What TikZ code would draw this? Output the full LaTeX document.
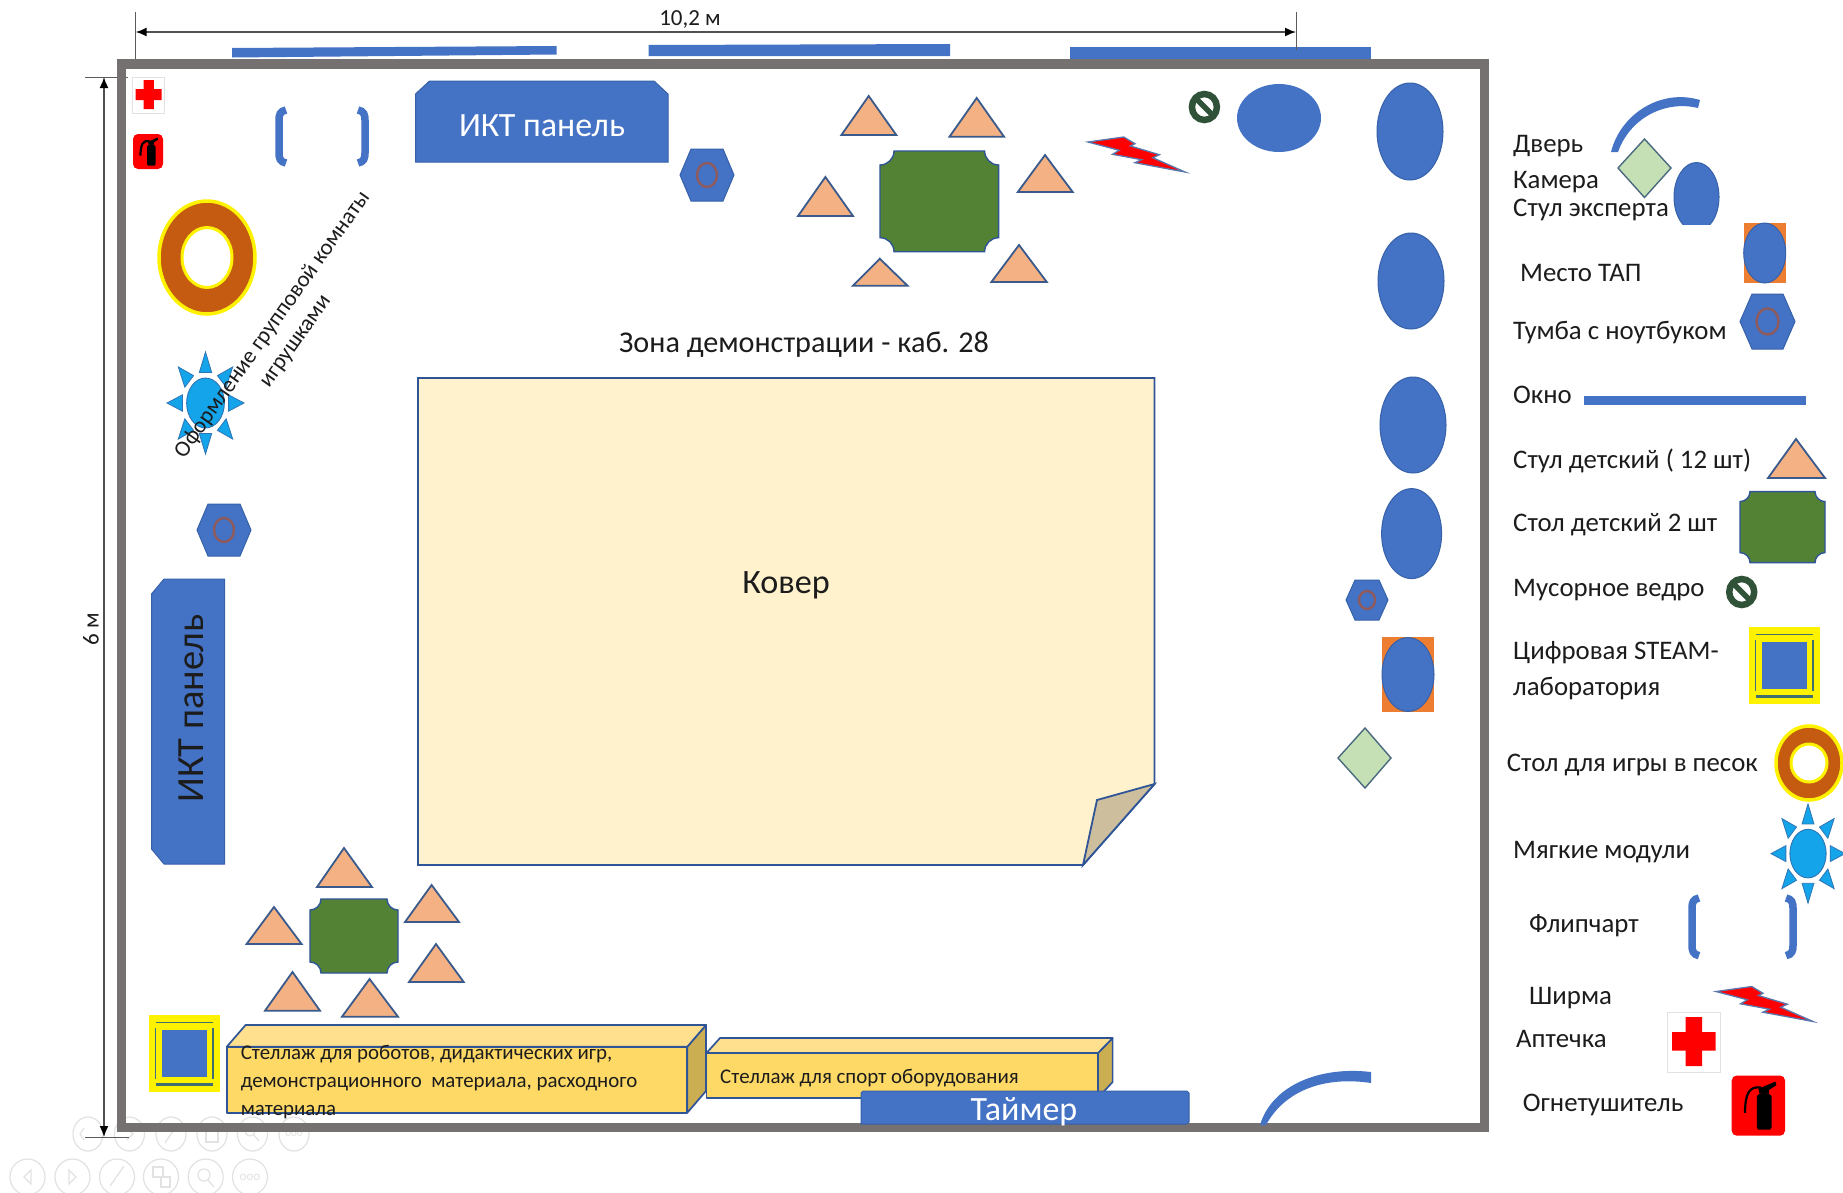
\documentclass[tikz,border=0pt]{standalone}
\usepackage{fontspec}
\setmainfont{Carlito}
\usetikzlibrary{arrows.meta,calc}
\definecolor{blueF}{HTML}{4472C4}
\definecolor{blueS}{HTML}{2F5597}
\definecolor{wallC}{HTML}{767171}
\definecolor{chairF}{HTML}{F4B183}
\definecolor{chairS}{HTML}{3A5A8C}
\definecolor{greenF}{HTML}{548235}
\definecolor{camF}{HTML}{C5E0B4}
\definecolor{camS}{HTML}{4A6A80}
\definecolor{carpetF}{HTML}{FFF2CC}
\definecolor{foldF}{HTML}{CDBF9E}
\definecolor{shelfF}{HTML}{FFD966}
\definecolor{shelfT}{HTML}{FFE08F}
\definecolor{shelfS}{HTML}{CCAE52}
\definecolor{sandF}{HTML}{C55A11}
\definecolor{sunF}{HTML}{14A4EA}
\definecolor{sunS}{HTML}{2E75B6}
\definecolor{trashF}{HTML}{2F5238}
\definecolor{ringH}{HTML}{8F5A5C}
\definecolor{frameC}{HTML}{3F6F70}
\definecolor{ink}{HTML}{1C1C1C}
\definecolor{ghost}{HTML}{E2E2E2}
\definecolor{tapF}{HTML}{ED7D31}
\tikzset{
  blueshape/.style={fill=blueF,draw=blueS!60!blueF,line width=1pt},
  kidchair/.style={fill=chairF,draw=chairS,line width=1.8pt,line join=miter},
  kidtable/.style={fill=greenF,draw=blueS,line width=1.4pt},
  camera/.style={fill=camF,draw=camS,line width=1.4pt},
  shelf/.style={draw=blueS,line width=1.7pt,line join=round},
  dimline/.style={draw=wallC!70!black,line width=1.6pt,{Latex[length=11pt,width=9pt,black]}-{Latex[length=11pt,width=9pt,black]}},
  dimtick/.style={draw=wallC!80!black,line width=1pt},
  lbl/.style={anchor=base west,inner sep=0pt,text=ink,font=\fontsize{26.8}{30}\selectfont},
  panel/.style={text=white,inner sep=0pt,font=\fontsize{34}{40}\selectfont},
  shelftext/.style={anchor=base west,inner sep=0pt,text=ink,font=\fontsize{20.9}{24}\selectfont},
  ghostline/.style={draw=ghost,line width=1.2pt},
}
% concave-corner table: x1 y1 width height corner
\newcommand\KidTable[5]{%
  \begin{scope}[shift={(#1,#2)}]
  \draw[kidtable] (#5,0) -- ({#3-#5},0) .. controls ({#3-#5},{.55*#5}) and ({#3-.55*#5},#5) .. (#3,#5)
    -- (#3,{#4-#5}) .. controls ({#3-.55*#5},{#4-#5}) and ({#3-#5},{#4-.55*#5}) .. ({#3-#5},#4)
    -- (#5,#4) .. controls (#5,{#4-.55*#5}) and ({.55*#5},{#4-#5}) .. (0,{#4-#5})
    -- (0,#5) .. controls ({.55*#5},#5) and (#5,{.55*#5}) .. (#5,0) -- cycle;
  \end{scope}}
% hexagon: x1 y1 x2 y2 offset circle-rx circle-ry
\newcommand\Tumba[7]{%
  \draw[blueshape] (#1,{(#2+#4)/2}) -- ({#1+#5},#2) -- ({#3-#5},#2) -- (#3,{(#2+#4)/2}) -- ({#3-#5},#4) -- ({#1+#5},#4) -- cycle;
  \draw[draw=ringH,line width=2.4pt] ({(#1+#3)/2},{(#2+#4)/2}) ellipse [x radius=#6pt,y radius=#7pt];}
% lightning screen at left tip x y
\newcommand\Bolt[2]{%
  \draw[fill=red,draw=blueS!80!white,line width=1.3pt,line join=miter,shift={(#1,#2)}]
   (0,0) -- (35.7,-5) -- (46.9,1.7) -- (42.4,4) -- (71.4,12.7) -- (64.7,15.7) -- (97,30)
   -- (46.9,20.7) -- (53.6,17.7) -- (24.6,12.3) -- (31.3,8.3) -- cycle;}
% trash: cx cy
\newcommand\Trash[2]{%
  \begin{scope}[shift={(#1,#2)}]
  \draw[draw=trashF,fill=white,line width=6.5pt] (0,0) ellipse [x radius=12.5pt,y radius=13pt];
  \draw[draw=trashF,line width=5.5pt] (-8,-8) -- (8,8);
  \end{scope}}
% sun: cx cy half-width half-height
\newcommand\SunMod[4]{%
  \begin{scope}[shift={(#1,#2)},xscale=#3,yscale=#4]
  \foreach \a in {0,45,...,315}{
    \draw[fill=sunF,draw=sunS,line width=.8pt] (\a:1) -- (\a+15:.62) -- (\a-15:.62) -- cycle;}
  \draw[fill=sunF,draw=sunS,line width=.9pt] (0,0) circle [radius=.49];
  \end{scope}}
% sand ring: cx cy rx ry hole-rx hole-ry
\newcommand\SandRing[6]{%
  \draw[fill=sandF,draw=yellow,line width=3.5pt] (#1,#2) ellipse [x radius=#3pt,y radius=#4pt];
  \draw[fill=white,draw=yellow,line width=3pt] (#1,#2) ellipse [x radius=#5pt,y radius=#6pt];}
% steam lab: yellow x1 y1 x2 y2, blue x1 y1 x2 y2
\newcommand\SteamLab[8]{%
  \fill[yellow] (#1,#2) rectangle (#3,#4);
  \fill[blueF] (#5,#6) rectangle (#7,#8);
  \draw[frameC,line width=1.6pt] ({#1+.3*(#5-#1)+3},{(#2+#6)/2}) -- ({#3-.3*(#3-#7)-3},{(#2+#6)/2});
  \draw[frameC,line width=2.2pt] ({#1+.3*(#5-#1)+3},{(#4+#8)/2}) -- ({#3-.3*(#3-#7)-3},{(#4+#8)/2});
  \draw[frameC!70!blueF,line width=1.6pt] ({(#1+#5)/2},{#6-2}) -- ({(#1+#5)/2},{#8+2});
  \draw[frameC,line width=2.2pt] ({(#3+#7)/2},{#6-2}) -- ({(#3+#7)/2},{#8+2});}
% bracket pair: left x (outer) right x (outer) top bottom
\newcommand\Flip[4]{%
  \draw[draw=blueF,line width=7.5pt] ({#1+11},{#3+2}) .. controls ({#1+5},{#3+3}) and ({#1+4},{#3+7}) .. ({#1+4},{#3+12})
    -- ({#1+4},{#4-12}) .. controls ({#1+4},{#4-7}) and ({#1+5},{#4-3}) .. ({#1+11},{#4-2});
  \draw[draw=blueF,line width=7.5pt] ({#2-11},{#3+2}) .. controls ({#2-5},{#3+3}) and ({#2-4},{#3+7}) .. ({#2-4},{#3+12})
    -- ({#2-4},{#4-12}) .. controls ({#2-4},{#4-7}) and ({#2-5},{#4-3}) .. ({#2-11},{#4-2});}
% extinguisher: x y w h
\newcommand\Exting[4]{%
  \begin{scope}[shift={(#1,#2)}]
  \fill[red,rounded corners=5pt] (0,0) rectangle (#3,#4);
  \begin{scope}[xscale=#3,yscale=#4]
  \fill[black] (.47,.36) .. controls (.47,.27) and (.75,.27) .. (.75,.36) -- (.75,.86) -- (.72,.9) -- (.5,.9) -- (.47,.86) -- cycle;
  \fill[black] (.5,.22) -- (.82,.1) -- (.84,.16) -- (.7,.24) -- (.7,.3) -- (.52,.3) -- cycle;
  \draw[black,line width=2.2pt] (.55,.2) .. controls (.33,.17) and (.25,.3) .. (.25,.62);
  \end{scope}
  \end{scope}}
\begin{document}
\begin{tikzpicture}[x=1pt,y=-1pt]
\useasboundingbox (0,0) rectangle (1843,1192);
\fill[white] (0,0) rectangle (1843,1192);

% faint toolbar
\foreach \cx/\cy/\rx/\ry in {88/1134/15/17,129.5/1134/15/17,171/1134/15/17,212/1134/15/17,252.5/1134/15/17,294/1134/15/17,
  27.5/1177/17.5/18,72.5/1177/17.5/18,117/1177/17.5/18,161/1177/17.5/18,205.7/1177/17.5/18,250/1177/17.5/18}{
  \draw[ghostline] (\cx,\cy) ellipse [x radius=\rx pt,y radius=\ry pt];}
\draw[ghostline] (31,1170) -- (24,1177) -- (31,1184) -- cycle;
\draw[ghostline] (69,1170) -- (76,1177) -- (69,1184) -- cycle;
\draw[ghostline] (110,1186) -- (124,1166);
\draw[ghostline] (153,1167) rectangle (163,1177) (161,1177) rectangle (170,1187);
\draw[ghostline] (204,1175) circle [radius=6pt] (208,1180) -- (214,1187);
\node[text=ghost,font=\fontsize{13}{13}\selectfont,inner sep=0pt] (ghostdots) at (250,1177) {ooo};
\draw[ghostline] (84,1128) -- (80,1134) -- (84,1140);
\draw[ghostline] (127,1128) -- (133,1134) -- (127,1140);
\draw[ghostline] (165,1143) -- (177,1125);
\draw[ghostline] (206,1126) rectangle (218,1142);
\draw[ghostline] (250,1131) circle [radius=5pt] (254,1135) -- (259,1141);
\node[text=ghost,font=\fontsize{11}{11}\selectfont,inner sep=0pt] (ghostdotsb) at (294,1134) {ooo};

% windows
\fill[blueF] (232,48) -- (556.5,46) -- (556.5,54.5) -- (232,57.5) -- cycle;
\fill[blueF] (648.6,45) -- (950,44) -- (950,56) -- (648.6,56) -- cycle;
\fill[blueF] (1069.5,47) rectangle (1371,60);

% dimension lines
\coordinate (hL) at (135.6,32);
\coordinate (hR) at (1296,32);
\coordinate (hLt) at (135.6,12);
\coordinate (hLb) at (135.6,60);
\coordinate (hRt) at (1296,12);
\coordinate (hRb) at (1296,50);
\draw[dimtick] (hLt) -- (hLb);
\draw[dimtick] (hRt) -- (hRb);
\draw[dimline] (hL) -- (hR);
\node[inner sep=0pt,text=ink,font=\fontsize{23}{26}\selectfont] (width) at (690,20) {10,2 м};
\coordinate (vT) at (104,77);
\coordinate (vB) at (104,1137);
\coordinate (vTl) at (85,77);
\coordinate (vTr) at (128,77);
\coordinate (vBl) at (85,1137);
\coordinate (vBr) at (128.5,1137);
\draw[dimtick] (vTl) -- (vTr);
\draw[dimtick] (vBl) -- (vBr);
\draw[dimline] (vT) -- (vB);
\node[rotate=90,inner sep=0pt,text=ink,font=\fontsize{23}{26}\selectfont] (height) at (91,629) {6 м};

% walls
\draw[wallC,line width=9.5pt] (121.5,64) rectangle (1484.5,1127.5);

% first-aid kit
\draw[fill=white,draw=ghost,line width=1pt] (132,77) rectangle (164,113);
\fill[red] (143.5,80) rectangle (153.8,109) (135.6,89) rectangle (161.7,100);
\Exting{133}{134}{30}{35}

% flipchart
\Flip{275}{369}{108}{165}

% panel top
\draw[blueshape] (415.5,94) -- (429.5,81) -- (654,81) -- (668,94) -- (668,162) -- (415.5,162) -- cycle;
\node[panel] (panelAtext) at (542,126) {ИКТ панель};

\Tumba{680}{149}{734}{201}{11}{10}{12}

% top group chairs and table
\draw[kidchair] (868.7,96) -- (841.4,135) -- (896.3,135) -- cycle;
\draw[kidchair] (976.7,98) -- (949.5,136.7) -- (1004,136.7) -- cycle;
\draw[kidchair] (1045,155) -- (1017.8,192) -- (1072.7,192) -- cycle;
\draw[kidchair] (825.4,177) -- (798,216) -- (853,216) -- cycle;
\draw[kidchair] (879.8,258.7) -- (853,285.7) -- (907.5,285.7) -- cycle;
\draw[kidchair] (1019,245) -- (991.4,282) -- (1046.8,282) -- cycle;
\KidTable{880}{151}{118.6}{100.7}{14}

\Bolt{1088}{142}
\Trash{1204.4}{107}
\fill[blueF] (1279,118) ellipse [x radius=42pt,y radius=34pt];

% right column
\draw[blueshape] (1410,131.5) ellipse [x radius=33pt,y radius=48.5pt];
\draw[blueshape] (1411,281) ellipse [x radius=33pt,y radius=48pt];
\draw[blueshape] (1413,425) ellipse [x radius=33pt,y radius=48pt];
\draw[blueshape] (1411.6,533.6) ellipse [x radius=30pt,y radius=45pt];
\Tumba{1346}{580}{1388}{620}{9}{8}{9}
\fill[tapF] (1382,637) rectangle (1434,712);
\draw[blueshape] (1408,674.5) ellipse [x radius=26pt,y radius=37pt];
\draw[camera] (1338,758) -- (1365,728) -- (1391,758) -- (1365,788) -- cycle;

% door bottom
\fill[blueF] (1260,1125) .. controls (1272,1085) and (1320,1066) .. (1371,1072) -- (1371,1083) .. controls (1325,1076) and (1285,1090) .. (1266,1125) -- cycle;

% sand table, sun, rotated label
\SandRing{207}{257.5}{48}{56.5}{25}{30}
\SunMod{205.5}{403}{38.5}{51}
\node[rotate=54.6,align=center,inner sep=0pt,text=ink,font=\fontsize{22.6}{28}\selectfont] (decor) at (284,333) {Оформление групповой комнаты\\игрушками};

% zone title
\node[inner sep=0pt,text=ink,font=\fontsize{30.2}{34}\selectfont] (zone) at (804,344.5) {Зона демонстрации - каб. 28};

% carpet
\draw[fill=carpetF,draw=blueS,line width=1.8pt,line join=miter] (418,378) -- (1154.5,378) -- (1154.5,784) -- (1083,865) -- (418,865) -- cycle;
\draw[fill=foldF,draw=blueS,line width=1.8pt,line join=miter] (1154.5,784) -- (1097,800) -- (1083,865) -- cycle;
\node[inner sep=0pt,text=ink,font=\fontsize{34.2}{40}\selectfont] (carpet) at (786,585.5) {Ковер};

% panel left
\draw[blueshape] (164,579) -- (224.5,579) -- (224.5,864) -- (164,864) -- (151.5,849) -- (151.5,594) -- cycle;
\node[rotate=90,inner sep=0pt,text=ink,font=\fontsize{38.5}{42}\selectfont] (panelB) at (191.5,708.5) {ИКТ панель};

\Tumba{197}{504}{251}{556}{11}{10}{12}

% bottom group
\draw[kidchair] (344,848) -- (317,887) -- (372,887) -- cycle;
\draw[kidchair] (431.6,885) -- (405,922) -- (459,922) -- cycle;
\draw[kidchair] (274,907) -- (246.6,944) -- (301.6,944) -- cycle;
\draw[kidchair] (436,944) -- (409,982) -- (463.7,982) -- cycle;
\draw[kidchair] (292.5,972) -- (265,1010.7) -- (320,1010.7) -- cycle;
\draw[kidchair] (369.6,979) -- (342,1016.7) -- (398,1016.7) -- cycle;
\KidTable{310}{899}{88}{74}{11}

\SteamLab{149}{1015}{219.5}{1092}{162}{1030}{206.6}{1077}

% shelf 2
\draw[shelf,fill=shelfS] (1098,1053) -- (1112.6,1038) -- (1112.6,1082) -- (1098,1097.7) -- cycle;
\draw[shelf,fill=shelfT] (706.5,1053) -- (720,1038) -- (1112.6,1038) -- (1098,1053) -- cycle;
\draw[shelf,fill=shelfF] (706.5,1053) rectangle (1098,1097.7);
\node[shelftext] (shelfBtext) at (720,1083.5) {Стеллаж для спорт оборудования};

% shelf 1
\draw[shelf,fill=shelfS] (687.3,1046.7) -- (706,1025) -- (706,1091) -- (687.3,1112.7) -- cycle;
\draw[shelf,fill=shelfT] (226.8,1046.7) -- (245.6,1025) -- (706,1025) -- (687.3,1046.7) -- cycle;
\draw[shelf,fill=shelfF] (226.8,1046.7) rectangle (687.3,1112.7);
\node[shelftext] (shelfAa) at (240.6,1059.5) {Стеллаж для роботов, дидактических игр,};
\node[shelftext] (shelfAb) at (240.6,1087.5) {демонстрационного\ \ материала, расходного};
\node[shelftext] (shelfAc) at (240.6,1115.5) {материала};

% timer
\draw[blueshape] (861,1124) -- (861,1093) -- (863,1091) -- (1187,1091) -- (1189,1093) -- (1189,1122) -- (1187,1124) -- cycle;
\node[panel] (timer) at (1024,1111.5) {Таймер};

%% legend
\node[lbl] (lDoor) at (1513,152) {Дверь};
\node[lbl] (lCam) at (1513,188) {Камера};
\node[lbl] (lExp) at (1513,216) {Стул эксперта};
\node[lbl] (lTap) at (1520,281) {Место ТАП};
\node[lbl] (lTum) at (1513,339) {Тумба с ноутбуком};
\node[lbl] (lWin) at (1513,403) {Окно};
\node[lbl] (lChair) at (1513,468) {Стул детский ( 12 шт)};
\node[lbl] (lTable) at (1513,531) {Стол детский 2 шт};
\node[lbl] (lTrash) at (1513,596) {Мусорное ведро};
\node[lbl] (lSteamA) at (1513,659) {Цифровая STEAM-};
\node[lbl] (lSteamB) at (1513,695) {лаборатория};
\node[lbl] (lSand) at (1506.7,771) {Стол для игры в песок};
\node[lbl] (lSoft) at (1513,858) {Мягкие модули};
\node[lbl] (lFlip) at (1529,932) {Флипчарт};
\node[lbl] (lScreen) at (1529,1004) {Ширма};
\node[lbl] (lAid) at (1516,1047) {Аптечка};
\node[lbl] (lExt) at (1522.7,1111) {Огнетушитель};

\fill[blueF] (1611,152) .. controls (1620,115) and (1660,88) .. (1700,100) -- (1698,108) .. controls (1665,100) and (1630,118) .. (1618,152) -- cycle;
\draw[camera] (1618,168) -- (1644.5,139) -- (1671,168) -- (1644.5,197.5) -- cycle;
\begin{scope}
\clip (1660,150) rectangle (1730,224.6);
\draw[blueshape] (1696.5,197) ellipse [x radius=22.5pt,y radius=34.5pt];
\end{scope}
\fill[tapF] (1743.7,223) rectangle (1785.7,283);
\draw[blueshape] (1764.7,253) ellipse [x radius=21pt,y radius=30pt];
\Tumba{1740}{294}{1795}{349}{12}{11}{13}
\fill[blueF] (1584,396) rectangle (1806,404.5);
\draw[kidchair] (1796,439) -- (1768,478) -- (1825,478) -- cycle;
\KidTable{1740}{491.6}{85}{71}{10}
\Trash{1741.7}{592}
\SteamLab{1749}{626.6}{1820}{704}{1761.7}{642}{1806.7}{689}
\SandRing{1809}{763}{33}{37}{18}{19}
\SunMod{1808}{853.6}{37}{49.6}
\Flip{1688}{1797}{896}{957.6}
\Bolt{1716}{991.5}
\draw[fill=white,draw=ghost,line width=1pt] (1667.7,1012) rectangle (1720,1072.5);
\fill[red] (1685.7,1017) rectangle (1702,1066) (1672,1032) rectangle (1715.7,1050.6);
\Exting{1731.7}{1075.5}{53.3}{60.2}
\end{tikzpicture}
\end{document}
